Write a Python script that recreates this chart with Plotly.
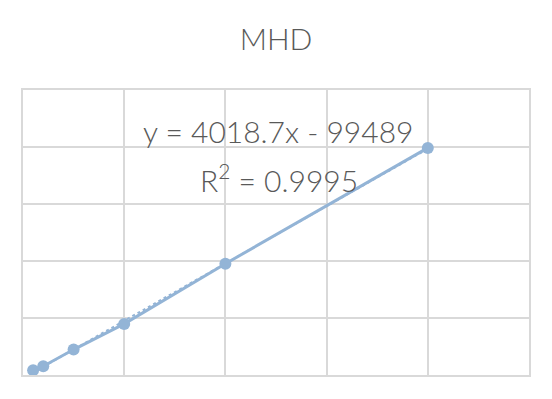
import numpy as np
import plotly.graph_objects as go

# data
x_vals = [25, 30, 45, 70, 120, 220]
y_vals = [16800, 30800, 89300, 179300, 390500, 796800]
title_text = "MHD"
eq_text = "y = 4018.7x - 99489"
r2_text = "R<sup>2</sup> = 0.9995"

COLOR = "#93B4D6"
GRID = "#D9D9D9"
TXT = "#595959"
FONT = "Lato"

slope, intercept = np.polyfit(x_vals, y_vals, 1)
tx = [min(x_vals), max(x_vals)]
ty = [slope * v + intercept for v in tx]

W, H = 536, 383  # page body has an 8px margin
OFF = 8

fig = go.Figure()
fig.add_trace(go.Scatter(x=tx, y=ty, mode="lines",
                         line=dict(color=COLOR, width=2, dash="dot"),
                         hoverinfo="skip", showlegend=False))
fig.add_trace(go.Scatter(x=x_vals, y=y_vals, mode="lines+markers",
                         line=dict(color=COLOR, width=3),
                         marker=dict(color=COLOR, size=12),
                         showlegend=False))

H_TOP, H_BOT = 90, 375.5
def py(pix):
    return (H_BOT - pix) / (H_BOT - H_TOP)

fig.add_annotation(text=eq_text, xref="paper", yref="paper", x=0.503, y=py(130.7),
                   xanchor="center", yanchor="middle", showarrow=False,
                   font=dict(family=FONT, size=30, color=TXT, weight=300))
fig.add_annotation(text=r2_text, xref="paper", yref="paper", x=0.505, y=py(178.5),
                   xanchor="center", yanchor="middle", showarrow=False,
                   font=dict(family=FONT, size=30, color=TXT, weight=300))

fig.update_layout(
    width=W, height=H,
    paper_bgcolor="white", plot_bgcolor="white",
    margin=dict(l=23 - OFF, r=552 - 529.5 - OFF, t=90 - OFF, b=399 - 375.5 - OFF),
    title=dict(text=title_text, x=(276 - OFF) / W, xanchor="center",
               y=1 - (39.5 - OFF) / H, yanchor="middle",
               font=dict(family=FONT, size=30, color=TXT, weight=300)),
    xaxis=dict(range=[20, 270], dtick=50, tick0=20, showticklabels=False, ticks="",
               showgrid=True, gridcolor=GRID, gridwidth=2, zeroline=False,
               showline=True, linecolor=GRID, linewidth=2, mirror=True),
    yaxis=dict(range=[0, 1000000], dtick=200000, showticklabels=False, ticks="",
               showgrid=True, gridcolor=GRID, gridwidth=2, zeroline=False,
               showline=True, linecolor=GRID, linewidth=2, mirror=True),
)
fig.write_html("out.html")
